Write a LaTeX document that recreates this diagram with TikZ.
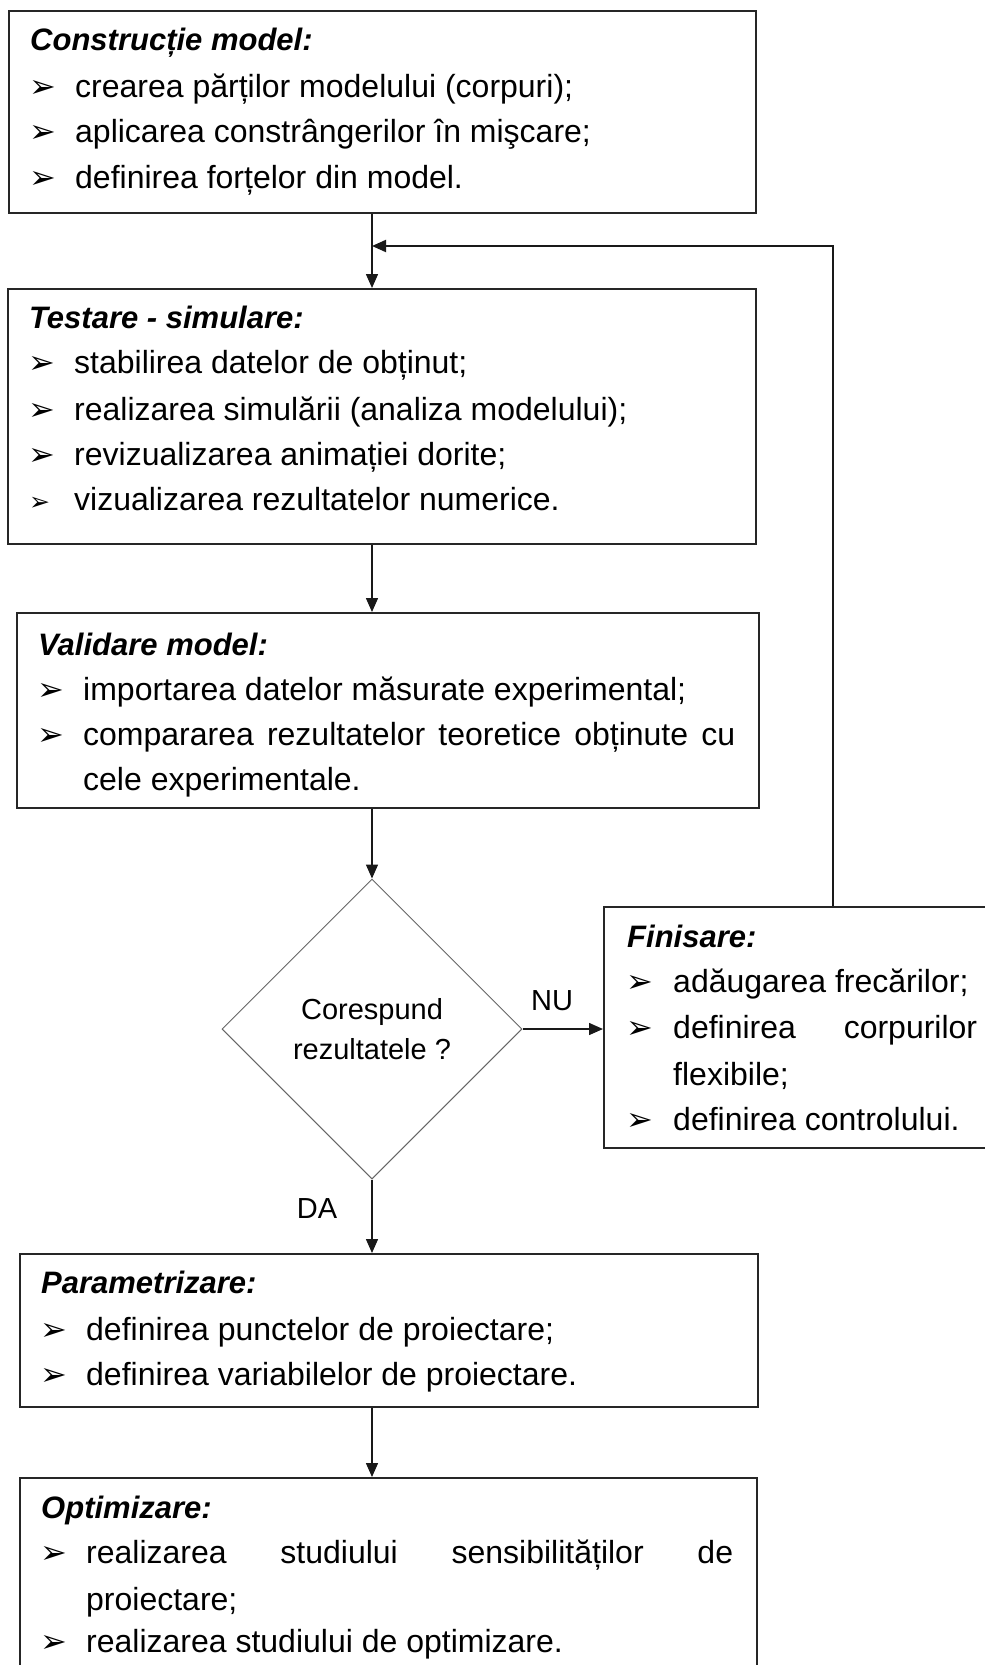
\documentclass[tikz,border=0pt]{standalone}
\usepackage{fontspec}
\setmainfont{Liberation Sans}
\newfontfamily\dingfont{DejaVu Sans}
\usetikzlibrary{shapes.geometric,arrows.meta}
\begin{document}
\begin{tikzpicture}[x=1pt,y=-1pt,
  box/.style={draw=black!85,line width=2pt,anchor=north west,inner sep=0pt},
  ttl/.style={anchor=base west,inner sep=0pt,font=\fontsize{31}{38}\selectfont\bfseries\itshape},
  txt/.style={anchor=base west,inner sep=0pt,font=\fontsize{32}{46}\selectfont},
  bul/.style={anchor=base west,inner sep=0pt,font=\dingfont\fontsize{32}{36}\selectfont},
  sbul/.style={anchor=base west,inner sep=0pt,font=\dingfont\fontsize{25}{30}\selectfont},
  arr/.style={line width=1.5pt,draw=black!90,-{Triangle[length=14pt,width=12pt]}},
  lbl/.style={inner sep=0pt,anchor=base,font=\fontsize{29}{40}\selectfont},
]
\useasboundingbox (0,0) rectangle (985,1665);

% boxes
\node[box,minimum width=747pt,minimum height=202pt] (b1) at (8,10) {};
\node[box,minimum width=748pt,minimum height=255pt] (b2) at (7,288) {};
\node[box,minimum width=742pt,minimum height=195pt] (b3) at (16,612) {};
\node[box,minimum width=397pt,minimum height=241pt] (fin) at (603,906) {};
\node[box,minimum width=738pt,minimum height=153pt] (par) at (19,1253) {};
\node[box,minimum width=737pt,minimum height=215pt] (opt) at (19,1477) {};
\node[draw=black!60,line width=1pt,diamond,minimum width=300pt,minimum height=300pt,
      inner sep=0pt,align=center,font=\fontsize{29}{40}\selectfont] (dec) at (372,1029)
      {Corespund\\rezultatele ?};

% box 1
\node[ttl] (t1) at (30,50) {Construcție model:};
\node[bul] (b1p1) at (29,97) {➢};  \node[txt] (b1l1) at (75,97) {crearea părților modelului (corpuri);};
\node[bul] (b1p2) at (29,142) {➢}; \node[txt] (b1l2) at (75,142) {aplicarea constrângerilor în mişcare;};
\node[bul] (b1p3) at (29,188) {➢}; \node[txt] (b1l3) at (75,188) {definirea forțelor din model.};

% box 2
\node[ttl] (t2) at (29,328) {Testare - simulare:};
\node[bul] (b2p1) at (28,373) {➢}; \node[txt] (b2l1) at (74,373) {stabilirea datelor de obținut;};
\node[bul] (b2p2) at (28,420) {➢}; \node[txt] (b2l2) at (74,420) {realizarea simulării (analiza modelului);};
\node[bul] (b2p3) at (28,465) {➢}; \node[txt] (b2l3) at (74,465) {revizualizarea animației dorite;};
\node[sbul] (b2p4) at (29,510) {➢}; \node[txt] (b2l4) at (74,510) {vizualizarea rezultatelor numerice.};

% box 3
\node[ttl] (t3) at (38,655) {Validare model:};
\node[bul] (b3p1) at (37,700) {➢}; \node[txt] (b3l1) at (83,700) {importarea datelor măsurate experimental;};
\node[bul] (b3p2) at (37,745) {➢}; \node[txt] (b3l2) at (83,745) {\makebox[652pt][s]{compararea rezultatelor teoretice obținute cu}};
\node[txt] (b3l3) at (83,790) {cele experimentale.};

% Finisare
\node[ttl] (t4) at (627,947) {Finisare:};
\node[bul] (f1p) at (626,992) {➢};  \node[txt] (f1) at (673,992) {adăugarea frecărilor;};
\node[bul] (f2p) at (626,1038) {➢}; \node[txt] (f2) at (673,1038) {\makebox[304pt][s]{definirea corpurilor}};
\node[txt] (f3) at (673,1085) {flexibile;};
\node[bul] (f4p) at (626,1130) {➢}; \node[txt] (f4) at (673,1130) {definirea controlului.};

% Parametrizare
\node[ttl] (t5) at (41,1293) {Parametrizare:};
\node[bul] (p1p) at (40,1340) {➢}; \node[txt] (p1) at (86,1340) {definirea punctelor de proiectare;};
\node[bul] (p2p) at (40,1385) {➢}; \node[txt] (p2) at (86,1385) {definirea variabilelor de proiectare.};

% Optimizare
\node[ttl] (t6) at (41,1518) {Optimizare:};
\node[bul] (o1p) at (40,1563) {➢}; \node[txt] (o1) at (86,1563) {\makebox[647pt][s]{realizarea studiului sensibilităților de}};
\node[txt] (o2) at (86,1610) {proiectare;};
\node[bul] (o3p) at (40,1652) {➢}; \node[txt] (o3) at (86,1652) {realizarea studiului de optimizare.};

% connectors
\coordinate (fbc) at (833,246);
\draw[arr] (b1.south -| dec.north) -- (b2.north -| dec.north);
\draw[arr,line width=2pt] (fin.north -| fbc) |- (fbc -| dec.north);
\draw[arr] (b2.south -| dec.north) -- (b3.north -| dec.north);
\draw[arr] (b3.south -| dec.north) -- (dec.north);
\draw[arr] (dec.east) -- (fin.west |- dec.east);
\draw[arr] (dec.south) -- (par.north -| dec.south);
\draw[arr] (par.south -| dec.north) -- (opt.north -| dec.north);
\node[lbl] (nu) at (552,1010) {NU};
\node[lbl] (da) at (317,1218) {DA};
\end{tikzpicture}
\end{document}
